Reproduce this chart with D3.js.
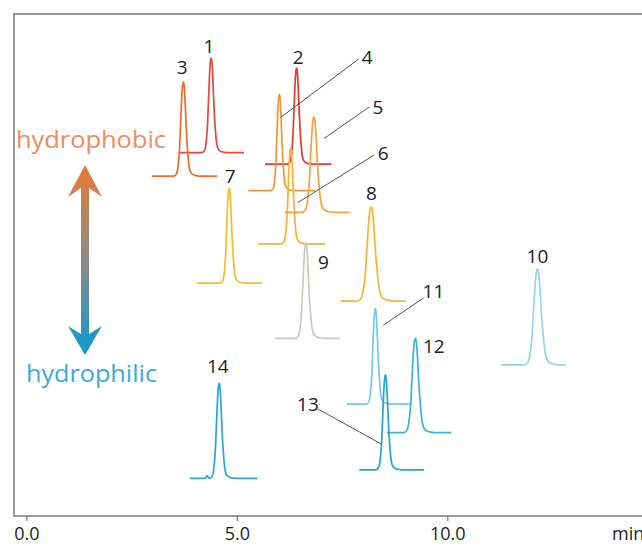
<!DOCTYPE html>
<html>
<head>
<meta charset="utf-8">
<script src="https://cdn.jsdelivr.net/npm/d3@7"></script>
<style>
  body { margin: 0; background: #fff; }
  text { font-family: "Open Sans", sans-serif; }
</style>
</head>
<body>
<div id="chart"></div>
<script>
// peak data (retention time in min, offset and height in arbitrary units)
const peakIds   = [1, 2, 3, 4, 5, 6, 7, 8, 9, 10, 11, 12, 13, 14];
const retention = [4.39, 6.42, 3.73, 6.01, 6.83, 6.28, 4.82, 8.19, 6.64, 12.14, 8.29, 9.24, 8.53, 4.58];
const traceFrom = [3.65, 5.67, 2.98, 5.27, 6.14, 5.50, 4.05, 7.47, 5.91, 11.27, 7.61, 8.56, 7.91, 3.89];
const traceTo   = [5.17, 7.25, 4.53, 6.86, 7.67, 7.10, 5.60, 9.02, 7.45, 12.82, 9.15, 10.10, 9.45, 5.49];
const baseline  = [72.4, 70.1, 67.7, 64.8, 60.5, 54.2, 46.4, 42.8, 35.4, 30.1, 22.3, 16.6, 9.2, 7.5];
const heights   = [18.8, 19.1, 18.8, 19.2, 19.0, 19.1, 18.9, 18.8, 19.0, 19.1, 19.0, 18.8, 18.9, 18.9];
const widths    = [1.0, 1.0, 1.05, 0.95, 1.3, 1.0, 1.0, 1.6, 1.15, 1.5, 1.0, 1.3, 1.05, 1.05];
const colors    = ["#e8473b", "#e53a2f", "#ee6c2a", "#f4962c", "#f5a33a", "#f7b232", "#f8bc2a",
                   "#f6b530", "#c9c9bd", "#94d4f2", "#74c8ee", "#3cb1e3", "#20a4db", "#2ba6dc"];

// typical peak shape (min from apex, fraction of height)
const profileDt  = [-0.22, -0.16, -0.12, -0.085, -0.06, -0.033, -0.013, 0, 0.016, 0.04, 0.065, 0.1, 0.13, 0.18, 0.26, 0.36];
const profileRel = [0, 0.02, 0.1, 0.3, 0.58, 0.86, 0.98, 1, 0.97, 0.8, 0.52, 0.25, 0.1, 0.03, 0.008, 0];

// small shoulder before peak 14
const shoulder14 = [[4.25, 0], [4.29, 0.55], [4.33, 0.1]];

// label places (min, units) and leader lines
const labelT = [4.34, 6.46, 3.70, 8.10, 8.35, 8.48, 4.84, 8.20, 7.06, 12.14, 9.67, 9.68, 6.69, 4.55];
const labelV = [93.5, 91.4, 89.4, 91.5, 81.5, 72.2, 67.6, 64.3, 50.5, 51.7, 44.7, 33.9, 22.3, 29.9];
const leaders = [
  [6.04, 79.4, 7.89, 91.0],
  [7.07, 75.2, 8.15, 81.5],
  [6.46, 62.5, 8.26, 71.9],
  [8.48, 38.0, 9.43, 43.4],
  [8.44, 14.3, 6.93, 21.3]
];

const xTicks = [0, 5, 10];

const w = 642, h = 546;
const frameLeft = 14, frameTop = 14, frameBottom = 516;

const xScale = d3.scaleLinear().domain([0, 10]).range([26.3, 447.3]);
const yScale = d3.scaleLinear().domain([0, 100]).range([frameBottom, frameTop]);

const svg = d3.select("#chart").append("svg")
  .attr("width", w)
  .attr("height", h);

// frame
svg.append("rect")
  .attr("x", frameLeft)
  .attr("y", frameTop)
  .attr("width", 700)
  .attr("height", frameBottom - frameTop)
  .attr("fill", "none")
  .attr("stroke", "#9a9a9a")
  .attr("stroke-width", 2);

// x axis
const xAxis = d3.axisBottom(xScale)
  .tickValues(xTicks)
  .tickSize(5)
  .tickFormat(d3.format(".1f"));

const gx = svg.append("g")
  .attr("transform", `translate(0, ${frameBottom})`)
  .call(xAxis);
gx.select(".domain").remove();
gx.selectAll(".tick line").attr("stroke", "#777").attr("stroke-width", 1.2);
gx.selectAll(".tick text")
  .attr("y", 24)
  .attr("dy", 0)
  .attr("fill", "#1e1e1e")
  .style("font-size", "18px")
  .style("font-family", "'Open Sans', sans-serif");

svg.append("text")
  .attr("x", 612)
  .attr("y", frameBottom + 24)
  .attr("fill", "#1e1e1e")
  .style("font-size", "18px")
  .text("min");

// traces
const line = d3.line()
  .x(d => xScale(d[0]))
  .y(d => yScale(d[1]))
  .curve(d3.curveMonotoneX);

const traces = peakIds.map((id, i) => {
  const pts = [[traceFrom[i], baseline[i]]];
  if (id === 14) shoulder14.forEach(s => pts.push([s[0], baseline[i] + s[1]]));
  profileDt.forEach((dt, k) => {
    pts.push([retention[i] + dt * widths[i], baseline[i] + heights[i] * profileRel[k]]);
  });
  pts.push([traceTo[i], baseline[i]]);
  return { id: id, color: colors[i], pts: pts };
});

svg.selectAll("path.trace")
  .data(traces)
  .enter()
  .append("path")
  .attr("class", "trace")
  .attr("d", d => line(d.pts))
  .attr("fill", "none")
  .attr("stroke", d => d.color)
  .attr("stroke-width", 1.7)
  .attr("stroke-linejoin", "round");

// leader lines
svg.selectAll("line.leader")
  .data(leaders)
  .enter()
  .append("line")
  .attr("class", "leader")
  .attr("x1", d => xScale(d[0]))
  .attr("y1", d => yScale(d[1]))
  .attr("x2", d => xScale(d[2]))
  .attr("y2", d => yScale(d[3]))
  .attr("stroke", "#555")
  .attr("stroke-width", 1);

// peak numbers
svg.selectAll("text.peak")
  .data(peakIds)
  .enter()
  .append("text")
  .attr("class", "peak")
  .attr("x", (d, i) => xScale(labelT[i]))
  .attr("y", (d, i) => yScale(labelV[i]))
  .attr("dy", "0.36em")
  .attr("text-anchor", "middle")
  .attr("fill", "#222")
  .style("font-size", "19px")
  .text(d => d);

// hydrophobic / hydrophilic arrow
const defs = svg.append("defs");
const grad = defs.append("linearGradient")
  .attr("id", "arrowGrad")
  .attr("x1", 0).attr("y1", 0)
  .attr("x2", 0).attr("y2", 1);
grad.append("stop").attr("offset", "0%").attr("stop-color", "#ea7a35");
grad.append("stop").attr("offset", "50%").attr("stop-color", "#8e8a86");
grad.append("stop").attr("offset", "100%").attr("stop-color", "#0a9ad2");

svg.append("path")
  .attr("d", "M85,165 L102,197 L89,188 L89,334 L102,326 L85,355 L68,326 L81,334 L81,188 L68,197 Z")
  .attr("fill", "url(#arrowGrad)");

svg.append("text")
  .attr("x", 16)
  .attr("y", 148)
  .attr("textLength", 150)
  .attr("lengthAdjust", "spacingAndGlyphs")
  .attr("fill", "#f08c5e")
  .style("font-size", "23px")
  .text("hydrophobic");

svg.append("text")
  .attr("x", 26)
  .attr("y", 382)
  .attr("textLength", 131)
  .attr("lengthAdjust", "spacingAndGlyphs")
  .attr("fill", "#3aaade")
  .style("font-size", "23px")
  .text("hydrophilic");
</script>
</body>
</html>
